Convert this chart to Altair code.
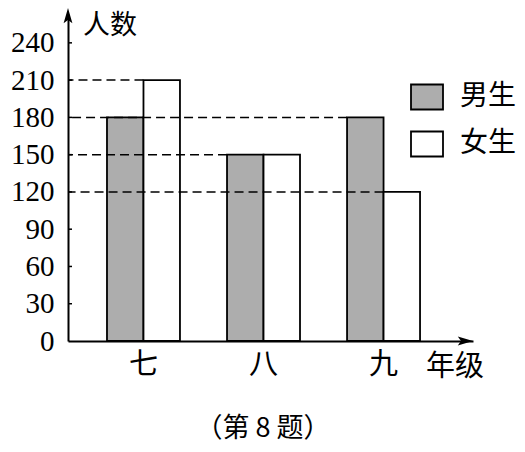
import altair as alt
import pandas as pd

CJK = "Noto Sans CJK SC"
NUM = "Liberation Serif"

grades = ["七", "八", "九"]
boys = [180, 150, 180]
girls = [210, 150, 120]
genders = ["男生", "女生"]
y_ticks = [0, 30, 60, 90, 120, 150, 180, 210, 240]

rows = []
for i, g in enumerate(grades):
    rows.append({"grade": g, "gender": genders[0], "count": boys[i]})
    rows.append({"grade": g, "gender": genders[1], "count": girls[i]})
bars_df = pd.DataFrame(rows)

# dashed guides: each value runs from the axis to the first bar of the rightmost grade showing it
guides = []
for v in sorted(set(boys + girls), reverse=True):
    gi = max(i for i in range(len(grades)) if boys[i] == v or girls[i] == v)
    gender = genders[0] if boys[gi] == v else genders[1]
    guides.append({"grade": grades[gi], "gender": gender, "count": v})
guides_df = pd.DataFrame(guides)

ticks_df = pd.DataFrame({"count": [t for t in y_ticks if t > 0]})
one = pd.DataFrame({"a": [0]})

W, H = 405, 323
xscale = alt.Scale(domain=grades, paddingInner=0.392, paddingOuter=0.383, align=0.424)
yscale = alt.Scale(domain=[0, 260], nice=False, zero=True)

xaxis = alt.Axis(title=None, labelFont=CJK, labelFontSize=29, labelColor="black",
                 labelPadding=9, ticks=False, domainColor="black", domainWidth=2,
                 labelAngle=0, grid=False)
yaxis = alt.Axis(title=None, values=y_ticks, grid=False, ticks=False, labelFont=NUM,
                 labelFontSize=29, labelPadding=14, domainColor="black", domainWidth=2,
                 labelColor="black")

bars = alt.Chart(bars_df).mark_bar(stroke="black", strokeWidth=1.8).encode(
    x=alt.X("grade:N", scale=xscale, sort=grades, axis=xaxis),
    xOffset=alt.XOffset("gender:N", sort=genders,
                        scale=alt.Scale(domain=genders, paddingInner=0, paddingOuter=0)),
    y=alt.Y("count:Q", scale=yscale, axis=yaxis),
    fill=alt.Fill("gender:N", sort=genders,
                  scale=alt.Scale(domain=genders, range=["#adadad", "#ffffff"]),
                  legend=alt.Legend(title=None, orient="none", legendX=342, legendY=62,
                                    symbolType="M-1,-0.78H1V0.78H-1Z", symbolSize=1024,
                                    symbolStrokeColor="black", symbolStrokeWidth=1.8,
                                    symbolOpacity=1, labelFont=CJK, labelFontSize=28,
                                    labelColor="black", labelOffset=16, rowPadding=13)),
)


def guide_layer(gender, band):
    return alt.Chart(guides_df).transform_filter(alt.datum.gender == gender).mark_rule(
        strokeDash=[9, 5], strokeWidth=1.5, color="black"
    ).encode(
        x=alt.X("grade:N", scale=xscale, sort=grades, bandPosition=band, axis=xaxis),
        x2=alt.value(0),
        y=alt.Y("count:Q", scale=yscale, axis=yaxis),
    )


inner_ticks = alt.Chart(ticks_df).mark_rule(color="black", strokeWidth=1.5).encode(
    x=alt.value(0), x2=alt.value(4),
    y=alt.Y("count:Q", scale=yscale, axis=yaxis),
)

y_stem = alt.Chart(one).mark_rule(color="black", strokeWidth=2).encode(
    x=alt.value(0), y=alt.value(-4), y2=alt.value(0))

y_arrow = alt.Chart(one).mark_point(
    shape="M0,-1L0.55,0.9L0,0.5L-0.55,0.9Z", filled=True, color="black", opacity=1, size=256
).encode(x=alt.value(0), y=alt.value(-2))

x_arrow = alt.Chart(one).mark_point(
    shape="M1,0L-0.9,-0.55L-0.5,0L-0.9,0.55Z", filled=True, color="black", opacity=1, size=256
).encode(x=alt.value(W - 8), y=alt.value(H))

y_title = alt.Chart(one).mark_text(text="人数", font=CJK, fontSize=27, align="left",
                                   baseline="middle", color="black").encode(
    x=alt.value(15), y=alt.value(8))

x_title = alt.Chart(one).mark_text(text="年级", font=CJK, fontSize=29, align="left",
                                   baseline="middle", color="black").encode(
    x=alt.value(358), y=alt.value(349))

caption = alt.Chart(one).mark_text(text="（第 8 题）", font=CJK, fontSize=27, align="center",
                                   baseline="middle", color="black").encode(
    x=alt.value(195), y=alt.value(411))

chart = alt.layer(
    bars, guide_layer(genders[0], 0), guide_layer(genders[1], 0.5), inner_ticks,
    y_stem, y_arrow, x_arrow, y_title, x_title, caption
).properties(
    width=W, height=H, autosize="none", background="white",
    view=alt.ViewBackground(strokeWidth=0, strokeOpacity=0),
    padding={"left": 60, "top": 10, "right": 44, "bottom": 103},
).configure_view(strokeWidth=0, strokeOpacity=0)

chart.save("out.html", embed_options={"renderer": "svg", "actions": False})
